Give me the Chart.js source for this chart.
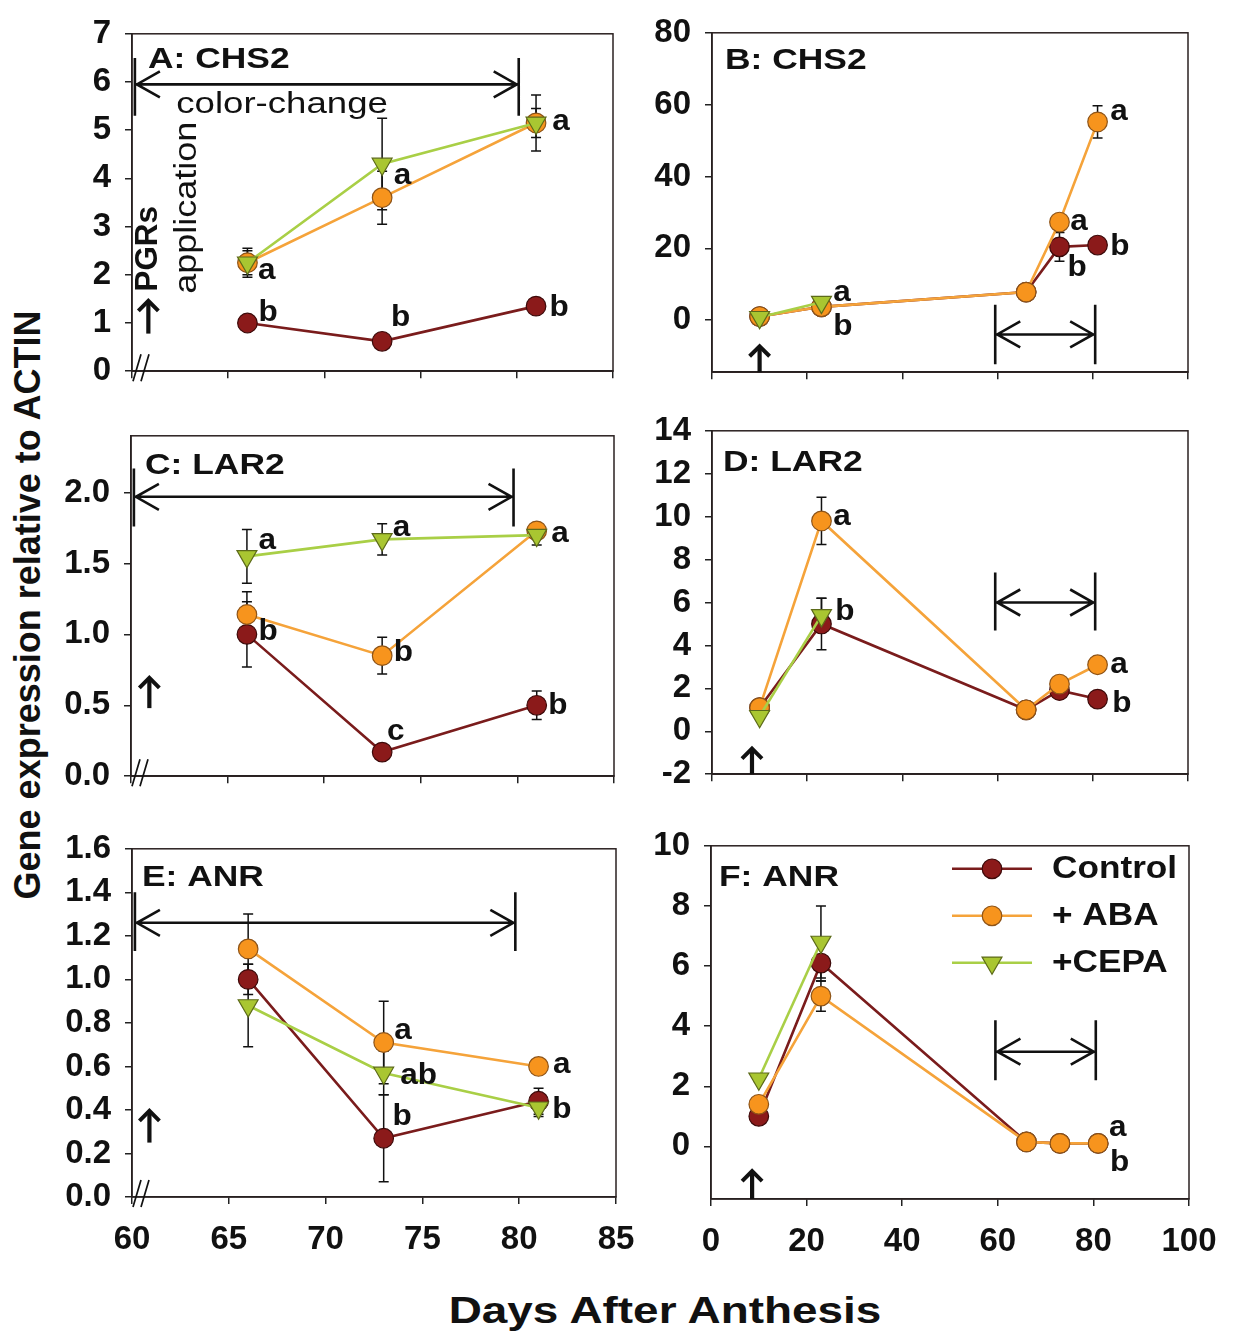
<!DOCTYPE html>
<html>
<head>
<meta charset="utf-8">
<script src="https://cdn.jsdelivr.net/npm/chart.js@4.4.1/dist/chart.umd.min.js"></script>
<style>
  html, body { margin:0; padding:0; background:#fff; }
  body { width:1258px; height:1340px; position:relative; overflow:hidden; font-family:'Liberation Sans', Arial, sans-serif; }
  canvas { position:absolute; }
  #ytitle { position:absolute; left:28px; top:605px; white-space:nowrap; font-weight:bold; font-size:36px; color:#111;
            line-height:1; transform:translate(-50%,-50%) rotate(-90deg); }
  #xtitle { position:absolute; left:665px; top:1290px; white-space:nowrap; font-weight:bold; font-size:37px; color:#111;
            transform:translateX(-50%) scaleX(1.24); }
</style>
</head>
<body>
<div id="ytitle">Gene expression relative to ACTIN</div>
<div id="xtitle">Days After Anthesis</div>
<canvas id="cA"></canvas>
<canvas id="cB"></canvas>
<canvas id="cC"></canvas>
<canvas id="cD"></canvas>
<canvas id="cE"></canvas>
<canvas id="cF"></canvas>
<script>
// ---------------- DATA ----------------
const seriesNames = ['Control', '+ ABA', '+CEPA'];
const panelTitles = ['A: CHS2', 'B: CHS2', 'C: LAR2', 'D: LAR2', 'E: ANR', 'F: ANR'];

const daysLate  = [66, 73, 81];          // panels A, C, E
const daysAll   = [10, 23, 66, 73, 81];  // panels B, D, F
const daysEarly = [10, 23];              // CEPA in B, D, F

const xTicksLate = [60, 65, 70, 75, 80, 85];
const xTicksAll  = [0, 20, 40, 60, 80, 100];
const yTicksA = [0, 1, 2, 3, 4, 5, 6, 7];
const yTicksB = [0, 20, 40, 60, 80];
const yTicksC = [0, 0.5, 1.0, 1.5, 2.0];
const yTicksD = [-2, 0, 2, 4, 6, 8, 10, 12, 14];
const yTicksE = [0, 0.2, 0.4, 0.6, 0.8, 1.0, 1.2, 1.4, 1.6];
const yTicksF = [0, 2, 4, 6, 8, 10];

// A: CHS2 (late)
const chs2A_control = [1.0, 0.62, 1.35];
const chs2A_aba     = [2.25, 3.6, 5.15];
const chs2A_cepa    = [2.25, 4.3, 5.15];
const chs2A_controlErr = [0.04, 0.04, 0.05];
const chs2A_abaErr     = [0.30, 0.55, 0.58];
const chs2A_cepaErr    = [0.25, 0.95, 0.30];

// B: CHS2 (all)
const chs2B_control = [1.0, 3.7, 7.8, 20.4, 20.9];
const chs2B_aba     = [1.0, 3.7, 7.8, 27.3, 55.2];
const chs2B_cepa    = [0.8, 5.0];
const chs2B_controlErr = [0.3, 0.5, 0.8, 4.0, 1.0];
const chs2B_abaErr     = [0.3, 0.5, 0.8, 1.5, 4.5];
const chs2B_cepaErr    = [0.3, 0.5];

// C: LAR2 (late)
const lar2C_control = [1.0, 0.17, 0.50];
const lar2C_aba     = [1.14, 0.85, 1.73];
const lar2C_cepa    = [1.55, 1.67, 1.70];
const lar2C_controlErr = [0.23, 0.02, 0.10];
const lar2C_abaErr     = [0.16, 0.13, 0.05];
const lar2C_cepaErr    = [0.19, 0.11, 0.07];

// D: LAR2 (all)
const lar2D_control = [1.1, 5.0, 1.0, 1.9, 1.5];
const lar2D_aba     = [1.1, 9.8, 1.0, 2.2, 3.1];
const lar2D_cepa    = [0.7, 5.4];
const lar2D_controlErr = [0.1, 1.2, 0.1, 0.2, 0.2];
const lar2D_abaErr     = [0.1, 1.1, 0.1, 0.2, 0.3];
const lar2D_cepaErr    = [0.1, 0.8];

// E: ANR (late)
const anrE_control = [1.0, 0.27, 0.44];
const anrE_aba     = [1.14, 0.71, 0.60];
const anrE_cepa    = [0.88, 0.57, 0.41];
const anrE_controlErr = [0.07, 0.20, 0.06];
const anrE_abaErr     = [0.16, 0.19, 0.02];
const anrE_cepaErr    = [0.19, 0.10, 0.04];

// F: ANR (all)
const anrF_control = [1.0, 6.1, 0.15, 0.1, 0.1];
const anrF_aba     = [1.4, 5.0, 0.15, 0.1, 0.1];
const anrF_cepa    = [2.25, 6.8];
const anrF_controlErr = [0.1, 0.6, 0.05, 0.05, 0.05];
const anrF_abaErr     = [0.1, 0.5, 0.05, 0.05, 0.05];
const anrF_cepaErr    = [0.1, 1.2];

// significance letters (text per panel)
const lettersA = ['a', 'a', 'a', 'b', 'b', 'b'];
const lettersB = ['a', 'a', 'b', 'b', 'a', 'b'];
const lettersC = ['a', 'a', 'a', 'b', 'b', 'c', 'b'];
const lettersD = ['a', 'b', 'a', 'b'];
const lettersE = ['a', 'ab', 'b', 'a', 'b'];
const lettersF = ['a', 'b'];

// ---------------- STYLE / LAYOUT ----------------
const STYLE = [
  { line:'#7a1c1c', fill:'#8b1a1a', edge:'#3d0a0a', shape:'circle' },
  { line:'#f5a33a', fill:'#f7941d', edge:'#8e5418', shape:'circle' },
  { line:'#a9cf46', fill:'#a9c631', edge:'#5d6b1a', shape:'tri' }
];
const TICKFONT = { family:"'Liberation Sans', Arial, sans-serif", weight:'bold', size:33 };
const FAM = "'Liberation Sans', Arial, sans-serif";

function series(k, xs, ys, errs) {
  const s = STYLE[k];
  return {
    label: seriesNames[k],
    data: xs.map((x, i) => ({ x: x, y: ys[i] })),
    errors: errs,
    borderColor: s.line, borderWidth: 2.6,
    backgroundColor: s.fill,
    pointBackgroundColor: s.fill, pointBorderColor: s.edge, pointBorderWidth: 1.2,
    pointStyle: s.shape === 'tri' ? 'triangle' : 'circle',
    pointRotation: s.shape === 'tri' ? 180 : 0,
    pointRadius: s.shape === 'tri' ? 11.5 : 9.8,
    order: 3 - k, tension: 0, fill: false
  };
}

function txt(ctx, s, X, Y, font, sx, align, base, rot) {
  ctx.save();
  ctx.translate(X, Y);
  if (rot) ctx.rotate(rot * Math.PI / 180);
  ctx.scale(sx, 1);
  ctx.font = font; ctx.textAlign = align; ctx.textBaseline = base; ctx.fillStyle = '#111';
  ctx.fillText(s, 0, 0);
  ctx.restore();
}

function drawMarker(ctx, k, x, y) {
  const s = STYLE[k];
  ctx.save();
  ctx.fillStyle = s.fill; ctx.strokeStyle = s.edge; ctx.lineWidth = 1.2;
  ctx.beginPath();
  if (s.shape === 'tri') {
    const r = 11.5;
    ctx.moveTo(x, y + r);
    ctx.lineTo(x - r * Math.sin(Math.PI / 3), y - r * 0.5);
    ctx.lineTo(x + r * Math.sin(Math.PI / 3), y - r * 0.5);
    ctx.closePath();
  } else {
    ctx.arc(x, y, 9.8, 0, Math.PI * 2);
  }
  ctx.fill(); ctx.stroke();
  ctx.restore();
}

const panelPlugin = {
  id: 'panel',
  beforeDatasetsDraw(chart, args, o) {
    const ctx = chart.ctx, xs = chart.scales.x, ys = chart.scales.y;
    ctx.save();
    ctx.strokeStyle = '#111'; ctx.lineWidth = 1.5;
    chart.data.datasets.forEach((ds) => {
      (ds.errors || []).forEach((e, i) => {
        if (!e) return;
        const p = ds.data[i];
        const x = xs.getPixelForValue(p.x);
        const y1 = ys.getPixelForValue(p.y + e), y2 = ys.getPixelForValue(p.y - e);
        ctx.beginPath();
        ctx.moveTo(x, y1); ctx.lineTo(x, y2);
        ctx.moveTo(x - 5, y1); ctx.lineTo(x + 5, y1);
        ctx.moveTo(x - 5, y2); ctx.lineTo(x + 5, y2);
        ctx.stroke();
      });
    });
    ctx.restore();
  },
  afterDraw(chart, args, o) {
    const ctx = chart.ctx, xs = chart.scales.x, ys = chart.scales.y, a = chart.chartArea;
    const X = v => xs.getPixelForValue(v), Y = v => ys.getPixelForValue(v);
    ctx.save();
    // frame
    ctx.strokeStyle = '#2a2020'; ctx.lineWidth = 1.5;
    ctx.strokeRect(a.left, a.top, a.right - a.left, a.bottom - a.top);
    // axis break
    if (o.brk) {
      ctx.strokeStyle = '#111'; ctx.lineWidth = 1.7;
      ctx.beginPath();
      ctx.moveTo(a.left + 1, a.bottom + 10); ctx.lineTo(a.left + 9, a.bottom - 17);
      ctx.moveTo(a.left + 9, a.bottom + 10); ctx.lineTo(a.left + 17, a.bottom - 17);
      ctx.stroke();
    }
    // double arrow (color-change period)
    if (o.dbl) {
      const d = o.dbl;
      const X1 = X(d.x1), X2 = X(d.x2), YY = Y(d.y), B1 = Y(d.b1), B2 = Y(d.b2);
      ctx.strokeStyle = '#111'; ctx.lineWidth = 2.6; ctx.lineJoin = 'miter';
      ctx.beginPath();
      ctx.moveTo(X1, YY); ctx.lineTo(X2, YY);
      ctx.moveTo(X1, B1); ctx.lineTo(X1, B2);
      ctx.moveTo(X2, B1); ctx.lineTo(X2, B2);
      ctx.moveTo(X1 + 25, YY - 13); ctx.lineTo(X1 + 2, YY); ctx.lineTo(X1 + 25, YY + 13);
      ctx.moveTo(X2 - 25, YY - 13); ctx.lineTo(X2 - 2, YY); ctx.lineTo(X2 - 25, YY + 13);
      ctx.stroke();
    }
    // up arrow (PGR application)
    if (o.up) {
      const u = o.up;
      const UX = X(u.x), UB = Y(u.y1), UT = Y(u.y2);
      ctx.strokeStyle = '#111'; ctx.lineWidth = 4.2; ctx.lineJoin = 'miter'; ctx.lineCap = 'butt';
      ctx.beginPath();
      ctx.moveTo(UX, UB); ctx.lineTo(UX, UT + 3);
      ctx.stroke();
      ctx.lineWidth = 4.0;
      ctx.beginPath();
      ctx.moveTo(UX - 10, UT + 11); ctx.lineTo(UX, UT + 1); ctx.lineTo(UX + 10, UT + 11);
      ctx.stroke();
    }
    // panel title
    txt(ctx, o.title, a.left + o.tx, a.top + o.ty, 'bold 30px ' + FAM, 1.18, 'left', 'middle', 0);
    // extra texts
    (o.texts || []).forEach(t => {
      txt(ctx, t.s, X(t.x), Y(t.y), t.font + ' ' + FAM, t.sx, 'center', 'middle', t.rot || 0);
    });
    // letters
    (o.letters || []).forEach((s, i) => {
      const p = o.letterPos[i];
      txt(ctx, s, X(p[0]), Y(p[1]), 'bold 30px ' + FAM, 1.05, 'center', 'middle', 0);
    });
    // legend
    if (o.legend) {
      const L = o.legend;
      seriesNames.forEach((n, k) => {
        const yy = a.top + L.rows[k];
        ctx.strokeStyle = STYLE[k].line; ctx.lineWidth = 2.6;
        ctx.beginPath(); ctx.moveTo(a.left + L.x0, yy); ctx.lineTo(a.left + L.x1, yy); ctx.stroke();
        drawMarker(ctx, k, a.left + L.xm, yy);
        txt(ctx, n, a.left + L.xt, yy, 'bold 32px ' + FAM, 1.1, 'left', 'middle', 0);
      });
    }
    ctx.restore();
  }
};

function makeChart(id, box, cfg) {
  const padL = 110, padR = 45, padT = 28, padB = cfg.xLabels ? 75 : 28;
  const cv = document.getElementById(id);
  cv.width = box.r - box.l + padL + padR;
  cv.height = box.b - box.t + padT + padB;
  cv.style.left = (box.l - padL) + 'px';
  cv.style.top = (box.t - padT) + 'px';
  return new Chart(cv, {
    type: 'line',
    data: { datasets: cfg.datasets },
    options: {
      responsive: false, animation: false, events: [],
      layout: { padding: { top: padT, right: padR, left: 0, bottom: 0 } },
      plugins: { legend: { display: false }, tooltip: { enabled: false }, panel: cfg.panel },
      scales: {
        x: {
          type: 'linear', min: cfg.xMin, max: cfg.xMax,
          afterBuildTicks: s => { s.ticks = cfg.xTicks.map(v => ({ value: v })); },
          afterFit: s => { s.height = padB; },
          grid: { display: true, drawOnChartArea: false, drawTicks: true, tickLength: 7, color: '#222', lineWidth: 1.5 },
          border: { display: true, color: '#222', width: 1.5 },
          ticks: { display: cfg.xLabels, color: '#111', font: TICKFONT, padding: 16, maxRotation: 0, autoSkip: false,
                   callback: v => String(v) }
        },
        y: {
          type: 'linear', min: cfg.yMin, max: cfg.yMax,
          afterBuildTicks: s => { s.ticks = cfg.yTicks.map(v => ({ value: v })); },
          afterFit: s => { s.width = padL; },
          grid: { display: true, drawOnChartArea: false, drawTicks: true, tickLength: 7, color: '#222', lineWidth: 1.5 },
          border: { display: true, color: '#222', width: 1.5 },
          ticks: { color: '#111', font: TICKFONT, padding: 14, autoSkip: false,
                   callback: v => cfg.yDec ? Number(v).toFixed(cfg.yDec) : String(v) }
        }
      }
    },
    plugins: [panelPlugin]
  });
}

// panel boxes (plot area, page pixels)
const BOX = {
  A: { l:132, t:28,  r:613,  b:377 },
  B: { l:712, t:27,  r:1188, b:378 },
  C: { l:131, t:430, r:614,  b:782 },
  D: { l:712, t:425, r:1188, b:780 },
  E: { l:132, t:843, r:616,  b:1197 },
  F: { l:711, t:840, r:1189, b:1199 }
};

makeChart('cA', BOX.A, {
  xMin: 60, xMax: 85, yMin: 0, yMax: 7, xTicks: xTicksLate, yTicks: yTicksA, xLabels: false,
  datasets: [series(0, daysLate, chs2A_control, chs2A_controlErr), series(1, daysLate, chs2A_aba, chs2A_abaErr), series(2, daysLate, chs2A_cepa, chs2A_cepaErr)],
  panel: {
    title: panelTitles[0], tx: 16, ty: 26, brk: true,
    dbl: { x1: 60.15, x2: 80.1, y: 5.95, b1: 6.5, b2: 5.3 },
    up: { x: 60.85, y1: 0.78, y2: 1.48 },
    texts: [
      { s: 'color-change', x: 67.8, y: 5.52, font: 'normal 30px', sx: 1.22 },
      { s: 'PGRs', x: 60.85, y: 2.54, font: 'bold 32px', sx: 0.98, rot: -90 },
      { s: 'application', x: 62.9, y: 3.39, font: 'normal 31px', sx: 1.16, rot: -90 }
    ],
    letters: lettersA,
    letterPos: [[67.0, 2.08], [74.06, 4.06], [82.3, 5.18], [67.08, 1.22], [73.96, 1.1], [82.2, 1.32]]
  }
});

makeChart('cB', BOX.B, {
  xMin: 0, xMax: 100, yMin: -14.5, yMax: 80, xTicks: xTicksAll, yTicks: yTicksB, xLabels: false,
  datasets: [series(0, daysAll, chs2B_control, chs2B_controlErr), series(1, daysAll, chs2B_aba, chs2B_abaErr), series(2, daysEarly, chs2B_cepa, chs2B_cepaErr)],
  panel: {
    title: panelTitles[1], tx: 13, ty: 28,
    dbl: { x1: 59.5, x2: 80.5, y: -4, b1: 4.3, b2: -12.3 },
    up: { x: 10, y1: -14.5, y2: -7.0 },
    letters: lettersB,
    letterPos: [[85.5, 57.9], [77.1, 27.3], [85.7, 20.4], [76.7, 14.5], [27.3, 7.5], [27.5, -1.9]]
  }
});

makeChart('cC', BOX.C, {
  xMin: 60, xMax: 85, yMin: 0, yMax: 2.4, xTicks: xTicksLate, yTicks: yTicksC, yDec: 1, xLabels: false,
  datasets: [series(0, daysLate, lar2C_control, lar2C_controlErr), series(1, daysLate, lar2C_aba, lar2C_abaErr), series(2, daysLate, lar2C_cepa, lar2C_cepaErr)],
  panel: {
    title: panelTitles[2], tx: 14, ty: 30, brk: true,
    dbl: { x1: 60.15, x2: 79.8, y: 1.97, b1: 2.17, b2: 1.76 },
    up: { x: 60.95, y1: 0.48, y2: 0.70 },
    letters: lettersC,
    letterPos: [[67.05, 1.66], [74.0, 1.755], [82.2, 1.71], [67.1, 1.02], [74.1, 0.87], [73.7, 0.31], [82.1, 0.50]]
  }
});

makeChart('cD', BOX.D, {
  xMin: 0, xMax: 100, yMin: -2, yMax: 14, xTicks: xTicksAll, yTicks: yTicksD, xLabels: false,
  datasets: [series(0, daysAll, lar2D_control, lar2D_controlErr), series(1, daysAll, lar2D_aba, lar2D_abaErr), series(2, daysEarly, lar2D_cepa, lar2D_cepaErr)],
  panel: {
    title: panelTitles[3], tx: 11, ty: 32,
    dbl: { x1: 59.5, x2: 80.5, y: 6.0, b1: 7.4, b2: 4.7 },
    up: { x: 8.4, y1: -2, y2: -0.76 },
    letters: lettersD,
    letterPos: [[27.3, 10.0], [27.9, 5.57], [85.5, 3.1], [86.1, 1.26]]
  }
});

makeChart('cE', BOX.E, {
  xMin: 60, xMax: 85, yMin: 0, yMax: 1.6, xTicks: xTicksLate, yTicks: yTicksE, yDec: 1, xLabels: true,
  datasets: [series(0, daysLate, anrE_control, anrE_controlErr), series(1, daysLate, anrE_aba, anrE_abaErr), series(2, daysLate, anrE_cepa, anrE_cepaErr)],
  panel: {
    title: panelTitles[4], tx: 10, ty: 29, brk: true,
    dbl: { x1: 60.15, x2: 79.8, y: 1.26, b1: 1.40, b2: 1.13 },
    up: { x: 60.9, y1: 0.25, y2: 0.40 },
    letters: lettersE,
    letterPos: [[74.0, 0.765], [74.8, 0.557], [73.95, 0.37], [82.2, 0.61], [82.2, 0.40]]
  }
});

makeChart('cF', BOX.F, {
  xMin: 0, xMax: 100, yMin: -1.75, yMax: 10, xTicks: xTicksAll, yTicks: yTicksF, xLabels: true,
  datasets: [series(0, daysAll, anrF_control, anrF_controlErr), series(1, daysAll, anrF_aba, anrF_abaErr), series(2, daysEarly, anrF_cepa, anrF_cepaErr)],
  panel: {
    title: panelTitles[5], tx: 8, ty: 32,
    dbl: { x1: 59.5, x2: 80.5, y: 3.15, b1: 4.2, b2: 2.2 },
    up: { x: 8.6, y1: -1.75, y2: -0.79 },
    letters: lettersF,
    letterPos: [[85.1, 0.62], [85.5, -0.56]],
    legend: { x0: 241, x1: 321, xm: 281, xt: 341, rows: [23, 70, 117] }
  }
});
</script>
</body>
</html>
